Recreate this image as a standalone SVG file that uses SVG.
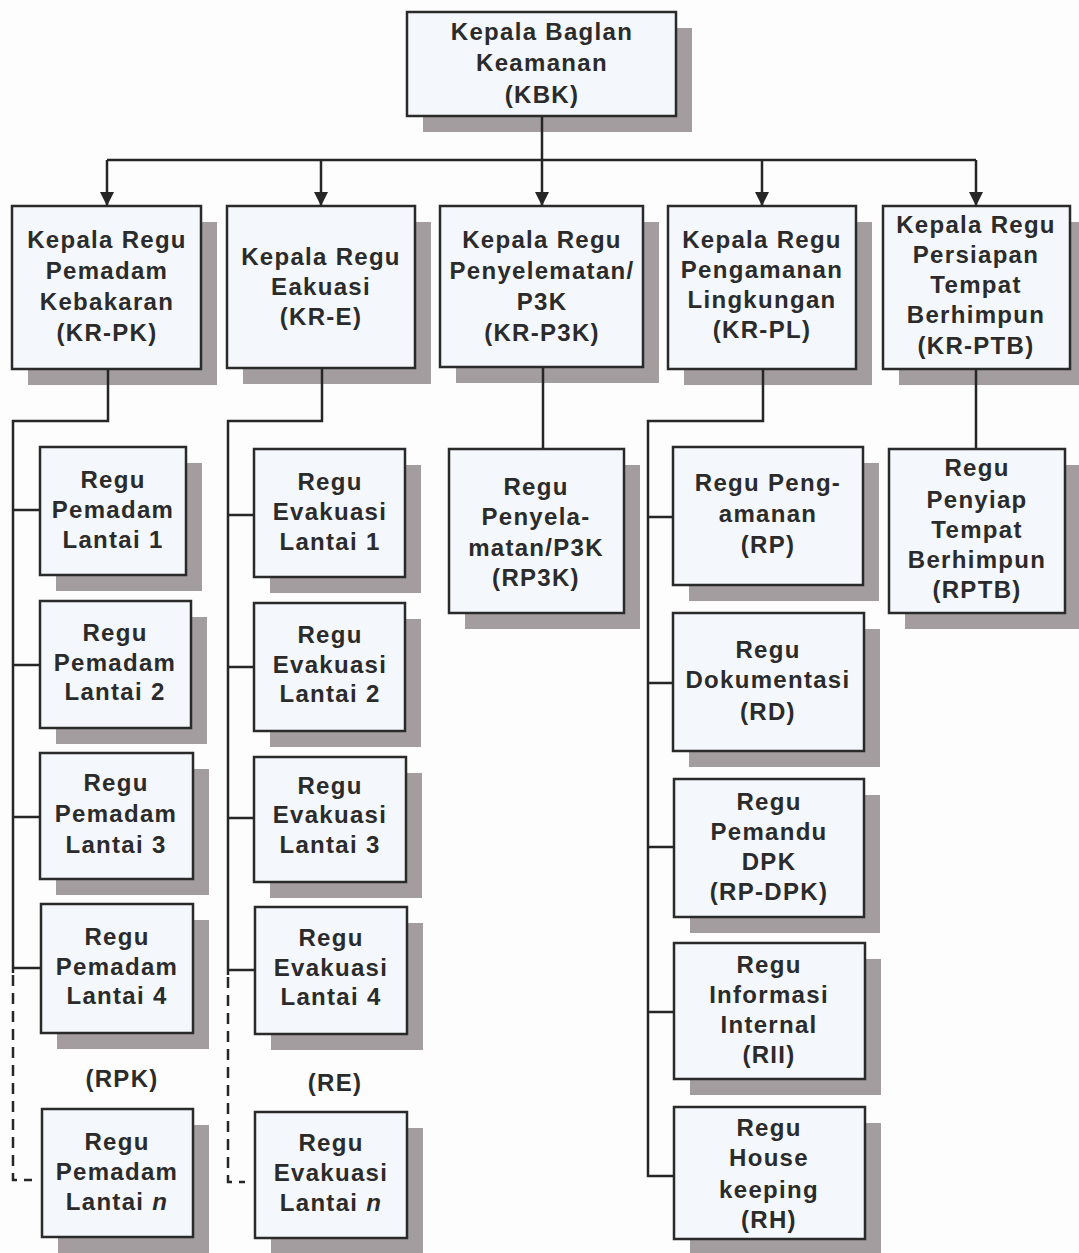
<svg xmlns="http://www.w3.org/2000/svg" width="1079" height="1253" viewBox="0 0 1079 1253">
<style>
.bg{fill:#fdfdfd}
.box{fill:#f4f7fb;stroke:#2a2a2a;stroke-width:2.5}
.sh{fill:#a39d9f}
.t{font-family:"Liberation Sans",Arial,sans-serif;font-weight:bold;font-size:24px;letter-spacing:1.3px;fill:#2b2b2b;text-anchor:middle}
.ln{stroke:#262626;stroke-width:2.5;fill:none}
.dash{stroke-dasharray:11 7}
</style>
<defs>
<marker id="arr" markerUnits="userSpaceOnUse" markerWidth="14" markerHeight="14" refX="14" refY="7" orient="auto">
<path d="M0,0 L14,7 L0,14 z" fill="#262626"/>
</marker>
</defs>
<rect class="bg" x="0" y="0" width="1079" height="1253"/>

<g id="n-kbk"><rect class="sh" x="423" y="28" width="269" height="104"/><rect class="box" x="407" y="12" width="269" height="104"/>
<text class="t"><tspan x="542" y="40">Kepala Baglan</tspan><tspan x="542" y="71">Keamanan</tspan><tspan x="542" y="103">(KBK)</tspan></text></g>

<g id="n-krpk"><rect class="sh" x="28" y="222" width="189" height="163"/><rect class="box" x="12" y="206" width="189" height="163"/>
<text class="t"><tspan x="107" y="248">Kepala Regu</tspan><tspan x="107" y="279">Pemadam</tspan><tspan x="107" y="310">Kebakaran</tspan><tspan x="107" y="341">(KR-PK)</tspan></text></g>

<g id="n-kre"><rect class="sh" x="243" y="222" width="188" height="162"/><rect class="box" x="227" y="206" width="188" height="162"/>
<text class="t"><tspan x="321" y="265">Kepala Regu</tspan><tspan x="321" y="295">Eakuasi</tspan><tspan x="321" y="325">(KR-E)</tspan></text></g>

<g id="n-krp3k"><rect class="sh" x="456" y="222" width="203" height="161"/><rect class="box" x="440" y="206" width="203" height="161"/>
<text class="t"><tspan x="542" y="248">Kepala Regu</tspan><tspan x="542" y="279">Penyelematan/</tspan><tspan x="542" y="310">P3K</tspan><tspan x="542" y="341">(KR-P3K)</tspan></text></g>

<g id="n-krpl"><rect class="sh" x="684" y="222" width="188" height="163"/><rect class="box" x="668" y="206" width="188" height="163"/>
<text class="t"><tspan x="762" y="248">Kepala Regu</tspan><tspan x="762" y="278">Pengamanan</tspan><tspan x="762" y="308">Lingkungan</tspan><tspan x="762" y="338">(KR-PL)</tspan></text></g>

<g id="n-krptb"><rect class="sh" x="899" y="222" width="187" height="163"/><rect class="box" x="883" y="206" width="187" height="163"/>
<text class="t"><tspan x="976" y="233">Kepala Regu</tspan><tspan x="976" y="263">Persiapan</tspan><tspan x="976" y="293">Tempat</tspan><tspan x="976" y="323">Berhimpun</tspan><tspan x="976" y="354">(KR-PTB)</tspan></text></g>

<g id="n-rpk1"><rect class="sh" x="56" y="463" width="146" height="128"/><rect class="box" x="40" y="447" width="146" height="128"/>
<text class="t"><tspan x="113" y="488">Regu</tspan><tspan x="113" y="518">Pemadam</tspan><tspan x="113" y="548">Lantai 1</tspan></text></g>

<g id="n-rpk2"><rect class="sh" x="56" y="617" width="151" height="127"/><rect class="box" x="40" y="601" width="151" height="127"/>
<text class="t"><tspan x="115" y="641">Regu</tspan><tspan x="115" y="671">Pemadam</tspan><tspan x="115" y="700">Lantai 2</tspan></text></g>

<g id="n-rpk3"><rect class="sh" x="56" y="769" width="153" height="126"/><rect class="box" x="40" y="753" width="153" height="126"/>
<text class="t"><tspan x="116" y="791">Regu</tspan><tspan x="116" y="822">Pemadam</tspan><tspan x="116" y="853">Lantai 3</tspan></text></g>

<g id="n-rpk4"><rect class="sh" x="57" y="920" width="152" height="129"/><rect class="box" x="41" y="904" width="152" height="129"/>
<text class="t"><tspan x="117" y="945">Regu</tspan><tspan x="117" y="975">Pemadam</tspan><tspan x="117" y="1004">Lantai 4</tspan></text></g>

<text id="l-rpk" class="t" x="122" y="1087">(RPK)</text>

<g id="n-rpkn"><rect class="sh" x="58" y="1125" width="151" height="128"/><rect class="box" x="42" y="1109" width="151" height="128"/>
<text class="t"><tspan x="117" y="1150">Regu</tspan><tspan x="117" y="1180">Pemadam</tspan><tspan x="117" y="1210">Lantai <tspan font-style="italic">n</tspan></tspan></text></g>

<g id="n-re1"><rect class="sh" x="270" y="465" width="151" height="128"/><rect class="box" x="254" y="449" width="151" height="128"/>
<text class="t"><tspan x="330" y="490">Regu</tspan><tspan x="330" y="520">Evakuasi</tspan><tspan x="330" y="550">Lantai 1</tspan></text></g>

<g id="n-re2"><rect class="sh" x="270" y="619" width="151" height="128"/><rect class="box" x="254" y="603" width="151" height="128"/>
<text class="t"><tspan x="330" y="643">Regu</tspan><tspan x="330" y="673">Evakuasi</tspan><tspan x="330" y="702">Lantai 2</tspan></text></g>

<g id="n-re3"><rect class="sh" x="270" y="773" width="152" height="125"/><rect class="box" x="254" y="757" width="152" height="125"/>
<text class="t"><tspan x="330" y="794">Regu</tspan><tspan x="330" y="823">Evakuasi</tspan><tspan x="330" y="853">Lantai 3</tspan></text></g>

<g id="n-re4"><rect class="sh" x="271" y="923" width="152" height="127"/><rect class="box" x="255" y="907" width="152" height="127"/>
<text class="t"><tspan x="331" y="946">Regu</tspan><tspan x="331" y="976">Evakuasi</tspan><tspan x="331" y="1005">Lantai 4</tspan></text></g>

<text id="l-re" class="t" x="335" y="1091">(RE)</text>

<g id="n-ren"><rect class="sh" x="271" y="1128" width="152" height="126"/><rect class="box" x="255" y="1112" width="152" height="126"/>
<text class="t"><tspan x="331" y="1151">Regu</tspan><tspan x="331" y="1181">Evakuasi</tspan><tspan x="331" y="1211">Lantai <tspan font-style="italic">n</tspan></tspan></text></g>

<g id="n-rp3k"><rect class="sh" x="465" y="465" width="175" height="164"/><rect class="box" x="449" y="449" width="175" height="164"/>
<text class="t"><tspan x="536" y="495">Regu</tspan><tspan x="536" y="525">Penyela-</tspan><tspan x="536" y="556">matan/P3K</tspan><tspan x="536" y="586">(RP3K)</tspan></text></g>

<g id="n-rp"><rect class="sh" x="689" y="463" width="190" height="138"/><rect class="box" x="673" y="447" width="190" height="138"/>
<text class="t"><tspan x="768" y="491">Regu Peng-</tspan><tspan x="768" y="522">amanan</tspan><tspan x="768" y="553">(RP)</tspan></text></g>

<g id="n-rd"><rect class="sh" x="689" y="629" width="191" height="138"/><rect class="box" x="673" y="613" width="191" height="138"/>
<text class="t"><tspan x="768" y="658">Regu</tspan><tspan x="768" y="688">Dokumentasi</tspan><tspan x="768" y="720">(RD)</tspan></text></g>

<g id="n-rpdpk"><rect class="sh" x="690" y="795" width="190" height="138"/><rect class="box" x="674" y="779" width="190" height="138"/>
<text class="t"><tspan x="769" y="810">Regu</tspan><tspan x="769" y="840">Pemandu</tspan><tspan x="769" y="870">DPK</tspan><tspan x="769" y="900">(RP-DPK)</tspan></text></g>

<g id="n-rii"><rect class="sh" x="690" y="959" width="191" height="136"/><rect class="box" x="674" y="943" width="191" height="136"/>
<text class="t"><tspan x="769" y="973">Regu</tspan><tspan x="769" y="1003">Informasi</tspan><tspan x="769" y="1033">Internal</tspan><tspan x="769" y="1063">(RII)</tspan></text></g>

<g id="n-rh"><rect class="sh" x="690" y="1123" width="191" height="132"/><rect class="box" x="674" y="1107" width="191" height="132"/>
<text class="t"><tspan x="769" y="1136">Regu</tspan><tspan x="769" y="1166">House</tspan><tspan x="769" y="1198">keeping</tspan><tspan x="769" y="1228">(RH)</tspan></text></g>

<g id="n-rptb"><rect class="sh" x="905" y="465" width="176" height="164"/><rect class="box" x="889" y="449" width="176" height="164"/>
<text class="t"><tspan x="977" y="476">Regu</tspan><tspan x="977" y="508">Penyiap</tspan><tspan x="977" y="538">Tempat</tspan><tspan x="977" y="568">Berhimpun</tspan><tspan x="977" y="598">(RPTB)</tspan></text></g>

<g id="connectors">
<path class="ln" d="M542,116 V160 M107,160 H976"/>
<path class="ln" marker-end="url(#arr)" d="M107,160 V206"/>
<path class="ln" marker-end="url(#arr)" d="M321,160 V206"/>
<path class="ln" marker-end="url(#arr)" d="M542,160 V206"/>
<path class="ln" marker-end="url(#arr)" d="M762,160 V206"/>
<path class="ln" marker-end="url(#arr)" d="M976,160 V206"/>
<path class="ln" d="M108,369 V421 H13 V973 M13,510 H40 M13,665 H40 M13,817 H40 M13,968 H41"/>
<path class="ln dash" d="M13,975 V1180 H32"/>
<path class="ln" d="M322,368 V421 H228 V975 M228,515 H254 M228,667 H254 M228,818 H254 M228,970 H255"/>
<path class="ln dash" d="M228,977 V1182 H245"/>
<path class="ln" d="M543,367 V449"/>
<path class="ln" d="M763,369 V421 H648 V1176 H674 M648,517 H673 M648,683 H673 M648,847 H674 M648,1012 H674"/>
<path class="ln" d="M976,369 V449"/>
</g>
</svg>
